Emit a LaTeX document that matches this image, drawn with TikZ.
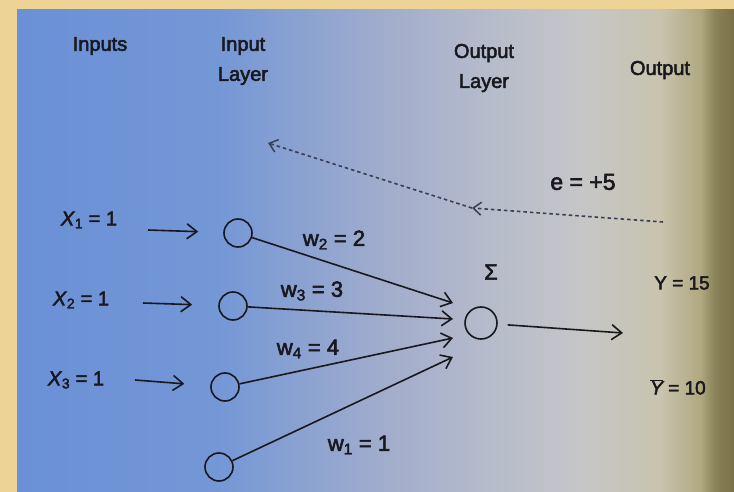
\documentclass[tikz,border=0pt]{standalone}
\usepackage{fontspec}
\setmainfont[FakeBold=2.5]{Liberation Sans}
\usetikzlibrary{arrows.meta}
\definecolor{gold}{HTML}{EDD496}
\definecolor{pA}{HTML}{6A90D6}
\definecolor{pB}{HTML}{7497D6}
\definecolor{pC}{HTML}{A0ACCC}
\definecolor{pD}{HTML}{B4BACB}
\definecolor{pE}{HTML}{C6C6C8}
\definecolor{pF}{HTML}{C8C4AE}
\definecolor{pG}{HTML}{B0A880}
\definecolor{pH}{HTML}{8A8258}
\definecolor{pI}{HTML}{7A7048}
\definecolor{ink}{HTML}{18181E}
\definecolor{dashc}{HTML}{3A3E52}
\pgfdeclarehorizontalshading{paper}{100bp}{color(0bp)=(pA); color(25bp)=(pA); color(39bp)=(pB); color(50.3bp)=(pC); color(57.3bp)=(pD); color(64.25bp)=(pE); color(69.85bp)=(pF); color(72.65bp)=(pG); color(73.65bp)=(pH); color(75bp)=(pI); color(100bp)=(pI)}
\tikzset{
  lbl/.style={text=ink, inner sep=0pt, font=\fontsize{20}{30}\selectfont},
  hd/.style={lbl, align=center},
  wlbl/.style={lbl, font=\fontsize{22}{26}\selectfont},
  neuron/.style={circle, draw=ink, line width=1.6pt, minimum size=28pt, inner sep=0pt},
  conn/.style={draw=ink, line width=1.6pt, -{Straight Barb[length=10pt,width=15pt,line width=1.6pt]}},
  back/.style={draw=dashc, line width=1.6pt, dash pattern=on 3.5pt off 3pt, -{Straight Barb[length=8pt,width=13pt,line width=1.5pt]}}
}
\begin{document}
\begin{tikzpicture}[x=1pt,y=-1pt]
\useasboundingbox (0,0) rectangle (734,492);
\fill[gold] (0,0) rectangle (734,492);
\shade[shading=paper] (17,10) rectangle (734,492);

% headers
\node[lbl] (inputs) at (100,46) {Inputs};
\node[hd] (inlayer) at (243,61) {Input\\Layer};
\node[hd] (outlayer) at (484,68) {Output\\Layer};
\node[lbl] (output) at (660,70) {Output};

% input labels
\node[lbl] (x1) at (89,220) {\textit{X}\textsubscript{1} = 1};
\node[lbl] (x2) at (81,300) {\textit{X}\textsubscript{2} = 1};
\node[lbl] (x3) at (76,380) {\textit{X}\textsubscript{3} = 1};

% neurons
\node[neuron] (c1) at (238,233) {};
\node[neuron] (c2) at (233,306) {};
\node[neuron] (c3) at (225,387) {};
\node[neuron] (c4) at (219,467) {};
\node[neuron, minimum size=32pt] (sum) at (481,323) {};
\node[lbl, font=\fontsize{22}{26}\selectfont] (sigma) at (491,272) {Σ};

% input arrows
\coordinate (a1) at (148,230);
\coordinate (a2) at (143,303);
\coordinate (a3) at (135,380);
\draw[conn, shorten >=25pt] (a1) -- (c1);
\draw[conn, shorten >=26pt] (a2) -- (c2);
\draw[conn, shorten >=26pt] (a3) -- (c3);

% weighted connections
\coordinate (t1) at (453,303);
\coordinate (t2) at (453,319);
\coordinate (t3) at (453,338);
\coordinate (t4) at (453,357);
\draw[conn] (c1) -- (t1);
\draw[conn] (c2) -- (t2);
\draw[conn] (c3) -- (t3);
\draw[conn] (c4) -- (t4);

\node[wlbl] (w2) at (334,240) {w\textsubscript{2} = 2};
\node[wlbl] (w3) at (312,291) {w\textsubscript{3} = 3};
\node[wlbl] (w4) at (308,349) {w\textsubscript{4} = 4};
\node[wlbl] (w1) at (359,445) {w\textsubscript{1} = 1};

% output
\coordinate (oe) at (623,333);
\draw[conn, shorten <=10pt] (sum) -- (oe);
\node[lbl, font=\fontsize{19}{22}\selectfont] (y) at (682,283) {Y = 15};
\node[lbl, font=\fontsize{19}{22}\selectfont] (ybar) at (678,387) {$\overline{\mbox{\itshape Y}}$ = 10};

% error back-propagation
\node[lbl, font=\fontsize{23}{26}\selectfont] (err) at (583,182) {e = +5};
\coordinate (d0) at (663,222);
\coordinate (d1) at (472,208);
\coordinate (d2) at (268,143);
\draw[back] (d0) -- (d1);
\draw[back] (d1) -- (d2);
\end{tikzpicture}
\end{document}
